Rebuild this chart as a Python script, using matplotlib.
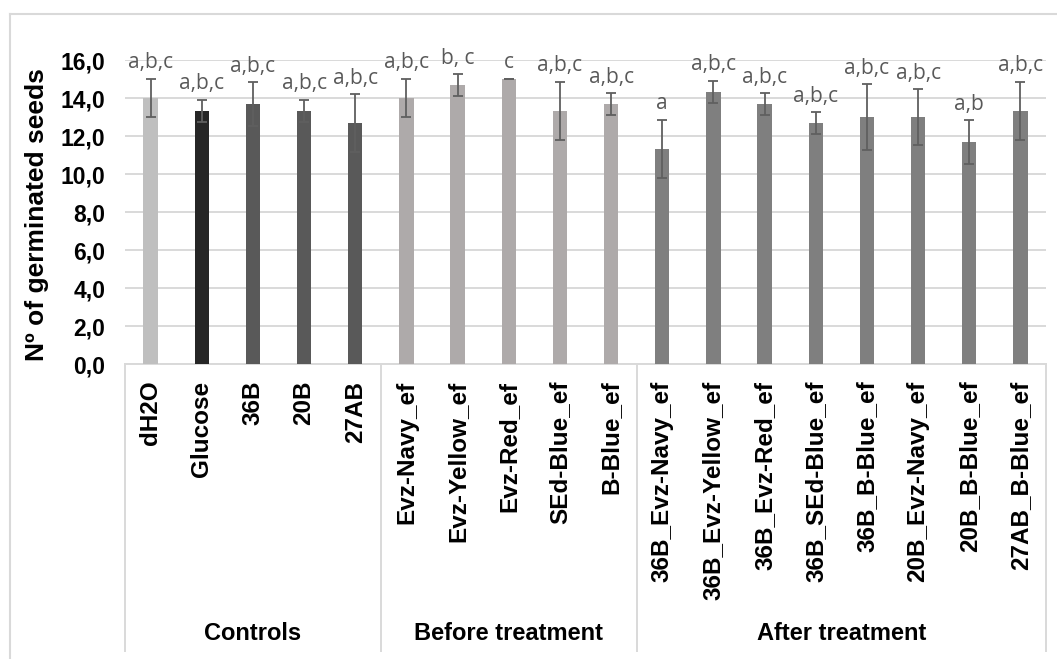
import matplotlib
matplotlib.use("Agg")
import matplotlib.pyplot as plt
from matplotlib.lines import Line2D
import numpy as np

# Germination counts per treatment (mean, standard deviation, significance letters)
groups = ["Controls", "Before treatment", "After treatment"]
group_sizes = [5, 5, 8]

categories = [
    "dH2O", "Glucose", "36B", "20B", "27AB",
    "Evz-Navy_ef", "Evz-Yellow_ef", "Evz-Red_ef", "SEd-Blue_ef", "B-Blue_ef",
    "36B_Evz-Navy_ef", "36B_Evz-Yellow_ef", "36B_Evz-Red_ef", "36B_SEd-Blue_ef",
    "36B_B-Blue_ef", "20B_Evz-Navy_ef", "20B_B-Blue_ef", "27AB_B-Blue_ef",
]
means = [
    14.0, 13.33, 13.67, 13.33, 12.67,
    14.0, 14.67, 15.0, 13.33, 13.67,
    11.33, 14.33, 13.67, 12.67, 13.0, 13.0, 11.67, 13.33,
]
sds = [
    1.0, 0.58, 1.15, 0.58, 1.53,
    1.0, 0.58, 0.0, 1.53, 0.58,
    1.53, 0.58, 0.58, 0.58, 1.73, 1.45, 1.15, 1.53,
]
letters = [
    "a,b,c", "a,b,c", "a,b,c", "a,b,c", "a,b,c",
    "a,b,c", "b, c", "c", "a,b,c", "a,b,c",
    "a", "a,b,c", "a,b,c", "a,b,c", "a,b,c", "a,b,c", "a,b", "a,b,c",
]
bar_colors = (
    ["#bfbfbf", "#262626", "#595959", "#595959", "#595959"]
    + ["#aeaaaa"] * 5
    + ["#7f7f7f"] * 8
)
y_ticks = [0, 2, 4, 6, 8, 10, 12, 14, 16]

W, H = 1057, 659
fig = plt.figure(figsize=(W / 100, H / 100), dpi=100)

# Chart-area frame
frame_color = "#d9d9d9"
fig.add_artist(Line2D([10 / W, 10 / W], [0, 1 - 14 / H], color=frame_color, lw=1.5,
                      transform=fig.transFigure))
fig.add_artist(Line2D([10 / W, 1], [1 - 14 / H, 1 - 14 / H], color=frame_color, lw=1.5,
                      transform=fig.transFigure))

ax_left, ax_right, ax_top, ax_bottom = 125, 1046, 60, 364
ax = fig.add_axes([ax_left / W, 1 - ax_bottom / H,
                   (ax_right - ax_left) / W, (ax_bottom - ax_top) / H])

x = np.arange(len(categories))
ax.bar(x, means, width=0.28, color=bar_colors, zorder=3)
ax.errorbar(x, means, yerr=sds, fmt="none", ecolor="#5f5f5f", elinewidth=1.3,
            capsize=3.6, capthick=1.3, zorder=4)

for xi, m, s, lab in zip(x, means, sds, letters):
    ax.annotate(lab, (xi, m + s), xytext=(0, 4), textcoords="offset points",
                ha="center", va="bottom", fontsize=15, color="#595959",
                family="Open Sans", annotation_clip=False)

ax.set_xlim(-0.5, len(categories) - 0.5)
ax.set_ylim(0, 16)
ax.set_yticks(y_ticks)
ax.set_yticklabels([f"{v:.1f}".replace(".", ",") for v in y_ticks],
                   fontsize=16.5, fontweight="bold", family="Liberation Sans")
ax.yaxis.grid(True, color="#d9d9d9", lw=1.4, zorder=0)
ax.set_axisbelow(True)
ax.tick_params(axis="y", length=0, pad=14)

ax.set_xticks(x)
ax.set_xticklabels(categories, rotation=90, fontsize=17.5, fontweight="bold",
                   family="Liberation Sans", va="top", ha="center")
ax.tick_params(axis="x", length=0, pad=12)

for sp in ["top", "right", "left"]:
    ax.spines[sp].set_visible(False)
ax.spines["bottom"].set_color("#d9d9d9")
ax.spines["bottom"].set_linewidth(1.4)

# Multi-level category axis: group separators and group names
box_depth = (651 - ax_bottom) / (ax_bottom - ax_top)
edges = np.concatenate([[0], np.cumsum(group_sizes)]) - 0.5
tr = ax.get_xaxis_transform()
for e in edges:
    ax.add_line(Line2D([e, e], [0, -box_depth], color="#d9d9d9", lw=1.4,
                       transform=tr, clip_on=False))
name_y = -(633 - ax_bottom) / (ax_bottom - ax_top)
for g, lo, hi in zip(groups, edges[:-1], edges[1:]):
    ax.text((lo + hi) / 2, name_y, g, transform=tr, ha="center", va="center",
            fontsize=17, fontweight="bold", family="Liberation Sans")

fig.text(37 / W, 1 - 215 / H, "Nº of germinated seeds", rotation=90,
         ha="center", va="center", fontsize=19, fontweight="bold",
         family="Liberation Sans")

fig.savefig("out.png", dpi=100)
